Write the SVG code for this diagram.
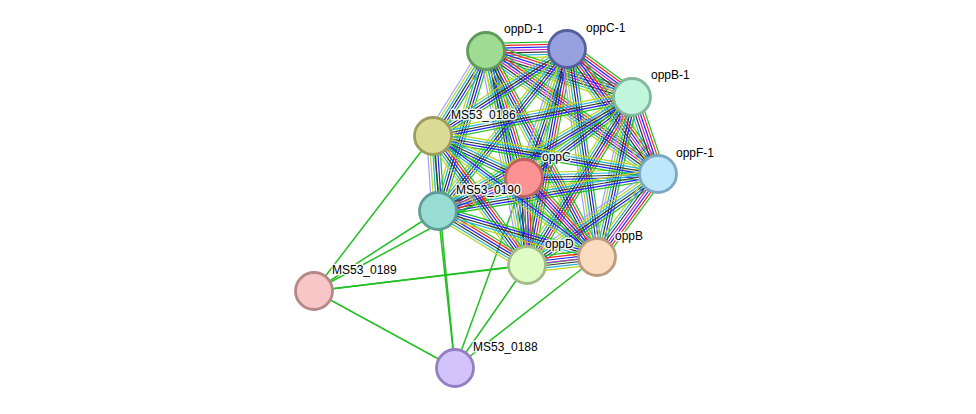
<svg xmlns="http://www.w3.org/2000/svg" width="976" height="414" viewBox="0 0 976 414">
<defs>
<style>
.p{stroke:#22bf22;stroke-width:1.5;fill:none}
.n circle{stroke-width:2.8}
text{font-family:"Liberation Sans",Arial,sans-serif;font-size:12px;fill:#000;stroke:#fff;stroke-width:3;stroke-opacity:0.85;paint-order:stroke;stroke-linejoin:round}
</style>
<g id="T1" stroke-width="1.2">
<line x2="1" y1="-7.5" y2="-7.5" stroke="#1fbf1f" vector-effect="non-scaling-stroke"/>
<line x2="1" y1="-5" y2="-5" stroke="#ff1f1f" vector-effect="non-scaling-stroke"/>
<line x2="1" y1="-2.5" y2="-2.5" stroke="#1f1fff" vector-effect="non-scaling-stroke"/>
<line x2="1" y1="0" y2="0" stroke="#d01fd0" vector-effect="non-scaling-stroke"/>
<line x2="1" y1="2.5" y2="2.5" stroke="#333333" vector-effect="non-scaling-stroke"/>
<line x2="1" y1="5" y2="5" stroke="#1fb4d8" vector-effect="non-scaling-stroke"/>
<line x2="1" y1="7.5" y2="7.5" stroke="#b8d41f" vector-effect="non-scaling-stroke"/>
</g>
<g id="T2" stroke-width="1.2">
<line x2="1" y1="-6.25" y2="-6.25" stroke="#1fbf1f" vector-effect="non-scaling-stroke"/>
<line x2="1" y1="-3.75" y2="-3.75" stroke="#1f1fff" vector-effect="non-scaling-stroke"/>
<line x2="1" y1="-1.25" y2="-1.25" stroke="#333333" vector-effect="non-scaling-stroke"/>
<line x2="1" y1="1.25" y2="1.25" stroke="#1fb4d8" vector-effect="non-scaling-stroke"/>
<line x2="1" y1="3.75" y2="3.75" stroke="#b8d41f" vector-effect="non-scaling-stroke"/>
<line x2="1" y1="6.25" y2="6.25" stroke="#9f9fff" vector-effect="non-scaling-stroke"/>
</g>
<g id="T3" stroke-width="1.2">
<line x2="1" y1="-5" y2="-5" stroke="#1fbf1f" vector-effect="non-scaling-stroke"/>
<line x2="1" y1="-2.5" y2="-2.5" stroke="#1f1fff" vector-effect="non-scaling-stroke"/>
<line x2="1" y1="0" y2="0" stroke="#333333" vector-effect="non-scaling-stroke"/>
<line x2="1" y1="2.5" y2="2.5" stroke="#1fb4d8" vector-effect="non-scaling-stroke"/>
<line x2="1" y1="5" y2="5" stroke="#b8d41f" vector-effect="non-scaling-stroke"/>
</g>
<g id="T4" stroke-width="1.2">
<line x2="1" y1="-3.75" y2="-3.75" stroke="#1fbf1f" vector-effect="non-scaling-stroke"/>
<line x2="1" y1="-1.25" y2="-1.25" stroke="#1f1fff" vector-effect="non-scaling-stroke"/>
<line x2="1" y1="1.25" y2="1.25" stroke="#1fb4d8" vector-effect="non-scaling-stroke"/>
<line x2="1" y1="3.75" y2="3.75" stroke="#b8d41f" vector-effect="non-scaling-stroke"/>
</g>
<g id="T5" stroke-width="1.2">
<line x2="1" y1="-6.25" y2="-6.25" stroke="#1fbf1f" vector-effect="non-scaling-stroke"/>
<line x2="1" y1="-3.75" y2="-3.75" stroke="#ff1f1f" vector-effect="non-scaling-stroke"/>
<line x2="1" y1="-1.25" y2="-1.25" stroke="#1f1fff" vector-effect="non-scaling-stroke"/>
<line x2="1" y1="1.25" y2="1.25" stroke="#333333" vector-effect="non-scaling-stroke"/>
<line x2="1" y1="3.75" y2="3.75" stroke="#1fb4d8" vector-effect="non-scaling-stroke"/>
<line x2="1" y1="6.25" y2="6.25" stroke="#b8d41f" vector-effect="non-scaling-stroke"/>
</g>
</defs>
<rect width="976" height="414" fill="#fff"/>
<g id="connectors">
<g id="peripheral">
<line class="p" x1="314" y1="291" x2="433" y2="136"/>
<line class="p" x1="314" y1="291" x2="438" y2="211"/>
<line class="p" x1="314" y1="291" x2="524" y2="178"/>
<line class="p" x1="314" y1="291" x2="527" y2="265"/>
<line class="p" x1="314" y1="291" x2="597" y2="257"/>
<line class="p" x1="314" y1="291" x2="455" y2="368"/>
<line class="p" x1="455" y1="368" x2="438" y2="211"/>
<line class="p" x1="455" y1="368" x2="433" y2="136"/>
<line class="p" x1="455" y1="368" x2="524" y2="178"/>
<line class="p" x1="455" y1="368" x2="527" y2="265"/>
<line class="p" x1="455" y1="368" x2="597" y2="257"/>
</g>
<use href="#T1" transform="translate(486,51) rotate(-1.41) scale(81.02,1)"/>
<use href="#T1" transform="translate(486,51) rotate(17.49) scale(153.07,1)"/>
<use href="#T1" transform="translate(486,51) rotate(35.57) scale(211.45,1)"/>
<use href="#T5" transform="translate(486,51) rotate(73.34) scale(132.56,1)"/>
<use href="#T2" transform="translate(486,51) rotate(121.94) scale(100.17,1)"/>
<use href="#T3" transform="translate(486,51) rotate(106.70) scale(167.05,1)"/>
<use href="#T2" transform="translate(486,51) rotate(79.15) scale(217.89,1)"/>
<use href="#T5" transform="translate(486,51) rotate(61.69) scale(234.0,1)"/>
<use href="#T1" transform="translate(567,49) rotate(36.44) scale(80.80,1)"/>
<use href="#T1" transform="translate(567,49) rotate(53.94) scale(154.62,1)"/>
<use href="#T2" transform="translate(567,49) rotate(108.43) scale(135.98,1)"/>
<use href="#T3" transform="translate(567,49) rotate(147.0) scale(159.77,1)"/>
<use href="#T3" transform="translate(567,49) rotate(128.53) scale(207.09,1)"/>
<use href="#T5" transform="translate(567,49) rotate(100.49) scale(219.67,1)"/>
<use href="#T2" transform="translate(567,49) rotate(81.79) scale(210.15,1)"/>
<use href="#T1" transform="translate(632,97) rotate(71.35) scale(81.27,1)"/>
<use href="#T2" transform="translate(632,97) rotate(143.13) scale(135,1)"/>
<use href="#T3" transform="translate(632,97) rotate(168.91) scale(202.79,1)"/>
<use href="#T3" transform="translate(632,97) rotate(149.56) scale(225.02,1)"/>
<use href="#T5" transform="translate(632,97) rotate(122.01) scale(198.11,1)"/>
<use href="#T2" transform="translate(632,97) rotate(102.34) scale(163.78,1)"/>
<use href="#T3" transform="translate(658,174) rotate(178.29) scale(134.06,1)"/>
<use href="#T3" transform="translate(658,174) rotate(-170.41) scale(228.19,1)"/>
<use href="#T3" transform="translate(658,174) rotate(170.45) scale(223.09,1)"/>
<use href="#T2" transform="translate(658,174) rotate(145.21) scale(159.51,1)"/>
<use href="#T1" transform="translate(658,174) rotate(126.31) scale(103.0,1)"/>
<use href="#T3" transform="translate(524,178) rotate(-155.22) scale(100.22,1)"/>
<use href="#T1" transform="translate(524,178) rotate(159.01) scale(92.11,1)"/>
<use href="#T1" transform="translate(524,178) rotate(88.03) scale(87.05,1)"/>
<use href="#T1" transform="translate(524,178) rotate(47.26) scale(107.56,1)"/>
<use href="#T2" transform="translate(433,136) rotate(86.19) scale(75.17,1)"/>
<use href="#T5" transform="translate(433,136) rotate(53.92) scale(159.62,1)"/>
<use href="#T4" transform="translate(433,136) rotate(36.42) scale(203.81,1)"/>
<use href="#T5" transform="translate(438,211) rotate(31.25) scale(104.10,1)"/>
<use href="#T3" transform="translate(438,211) rotate(16.14) scale(165.52,1)"/>
<use href="#T1" transform="translate(527,265) rotate(-6.52) scale(70.46,1)"/>
</g>
<g id="oppD-1" class="n"><circle cx="486" cy="51" r="18.5" fill="#9fdc93" stroke="#5f9a5a"/></g>
<g id="oppC-1" class="n"><circle cx="567" cy="49" r="18.5" fill="#97a1df" stroke="#56609e"/></g>
<g id="oppB-1" class="n"><circle cx="632" cy="97" r="18.5" fill="#c0f6dc" stroke="#82b89c"/></g>
<g id="oppF-1" class="n"><circle cx="658" cy="174" r="18.5" fill="#bfe7fb" stroke="#7aa9c0"/></g>
<g id="MS53_0186" class="n"><circle cx="433" cy="136" r="18.5" fill="#dcdb96" stroke="#9d9c5f"/></g>
<g id="oppC" class="n"><circle cx="524" cy="178" r="18.5" fill="#fc9292" stroke="#c06262"/></g>
<g id="MS53_0190" class="n"><circle cx="438" cy="211" r="18.5" fill="#98ddd4" stroke="#5f9d98"/></g>
<g id="oppD" class="n"><circle cx="527" cy="265" r="18.5" fill="#e0fcc6" stroke="#a2bc88"/></g>
<g id="oppB" class="n"><circle cx="597" cy="257" r="18.5" fill="#fcdcbf" stroke="#bb9c80"/></g>
<g id="MS53_0189" class="n"><circle cx="314" cy="291" r="18.5" fill="#f7c6c6" stroke="#b88888"/></g>
<g id="MS53_0188" class="n"><circle cx="455" cy="368" r="18.5" fill="#d3c3fb" stroke="#9480c0"/></g>
<g id="labels">
<text x="504" y="33">oppD-1</text>
<text x="586" y="32">oppC-1</text>
<text x="651" y="79">oppB-1</text>
<text x="676" y="157">oppF-1</text>
<text x="451" y="119">MS53_0186</text>
<text x="542" y="161">oppC</text>
<text x="456" y="194">MS53_0190</text>
<text x="545" y="248">oppD</text>
<text x="615" y="240">oppB</text>
<text x="332" y="274">MS53_0189</text>
<text x="473" y="351">MS53_0188</text>
</g>
</svg>
